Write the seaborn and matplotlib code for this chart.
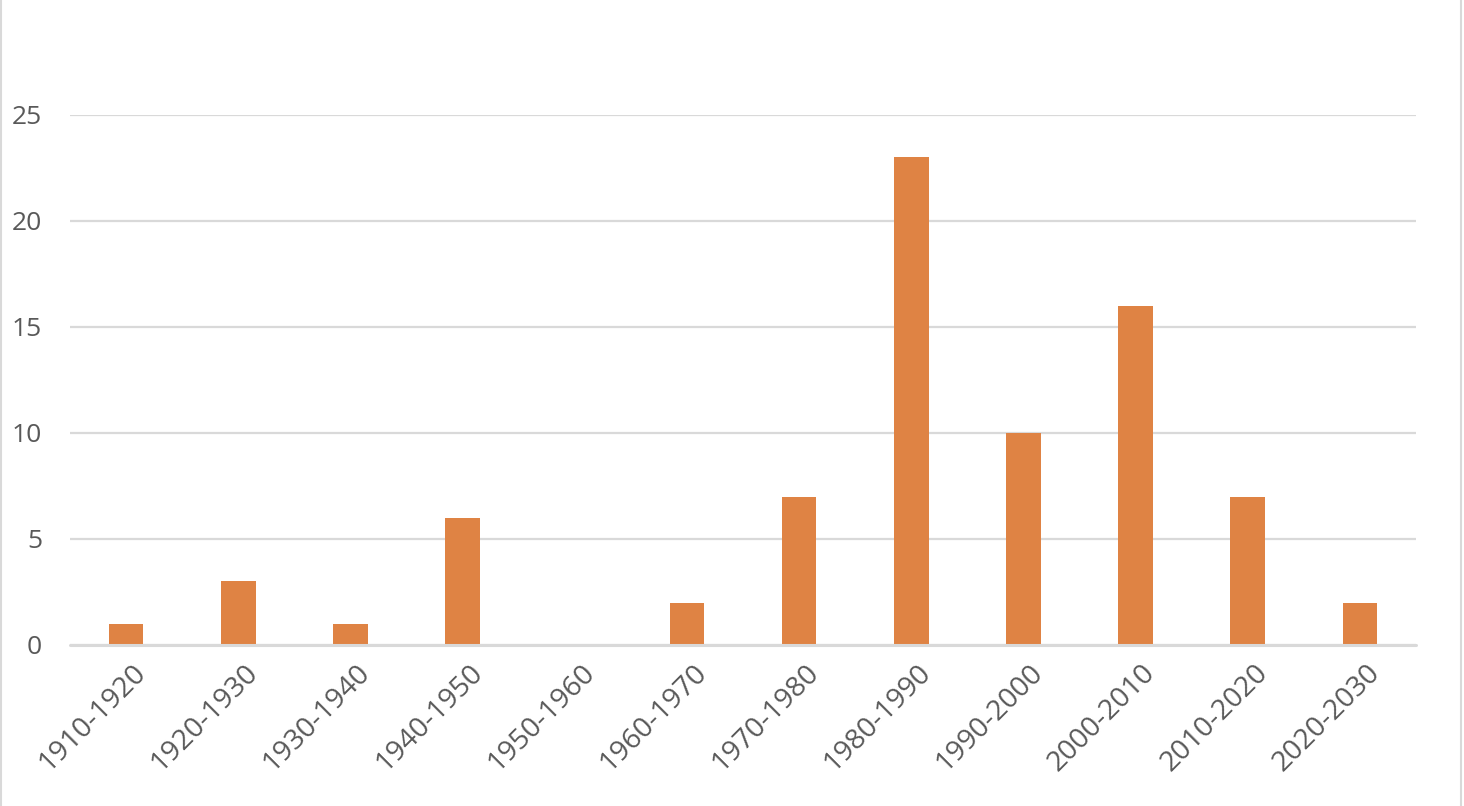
import matplotlib
matplotlib.use("Agg")
import matplotlib.pyplot as plt
import matplotlib.transforms as mtransforms
import seaborn as sns
import pandas as pd
from matplotlib.lines import Line2D

decades = ["1910-1920", "1920-1930", "1930-1940", "1940-1950", "1950-1960", "1960-1970",
           "1970-1980", "1980-1990", "1990-2000", "2000-2010", "2010-2020", "2020-2030"]
counts = [1, 3, 1, 6, 0, 2, 7, 23, 10, 16, 7, 2]
y_ticks = [0, 5, 10, 15, 20, 25]

df = pd.DataFrame({"decade": decades, "count": counts})

sns.set_style("white")
plt.rcParams["font.family"] = ["Open Sans", "DejaVu Sans"]

fig = plt.figure(figsize=(14.64, 8.06), dpi=100)
ax = fig.add_axes([70 / 1464, 1 - 645 / 806, (1416 - 70) / 1464, (645 - 115) / 806])

sns.barplot(data=df, x="decade", y="count", color="#DF8344", saturation=1,
            width=0.31, linewidth=0, ax=ax, zorder=3)

ax.set_ylim(0, 25)
ax.set_xlim(-0.5, len(decades) - 0.5)
ax.set_yticks(y_ticks)
ax.yaxis.grid(True, color="#D9D9D9", linewidth=1.6, zorder=0)
ax.set_axisbelow(True)
for s in ax.spines.values():
    s.set_visible(False)
ax.axhline(0, color="#D9D9D9", linewidth=2.2, zorder=4, clip_on=False)

ax.set_xlabel("")
ax.set_ylabel("")
ax.tick_params(axis="y", length=0, pad=20, labelsize=19, labelcolor="#595959")
ax.tick_params(axis="x", length=0, pad=10, labelsize=20.5, labelcolor="#595959")
shift = mtransforms.ScaledTranslation(6 / 100, 0, fig.dpi_scale_trans)
for lbl in ax.get_xticklabels():
    lbl.set_rotation(45)
    lbl.set_ha("right")
    lbl.set_va("top")
    lbl.set_rotation_mode("anchor")
    lbl.set_transform(lbl.get_transform() + shift)

# light frame at the left and right edges
fig.add_artist(Line2D([0.001, 0.001], [0, 1], color="#D9D9D9", linewidth=1.5))
fig.add_artist(Line2D([0.998, 0.998], [0, 1], color="#D9D9D9", linewidth=1.5))

fig.savefig("out.png", dpi=100)
